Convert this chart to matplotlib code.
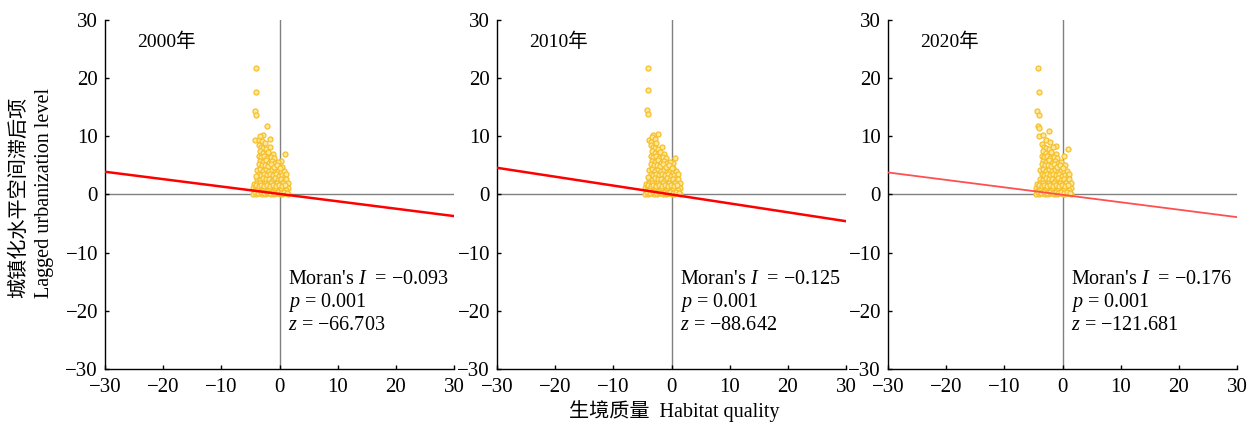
import matplotlib
matplotlib.use("Agg")
import matplotlib.pyplot as plt
import numpy as np

plt.rcParams['font.family'] = ['Liberation Serif', 'Noto Sans CJK SC', 'DejaVu Sans']
plt.rcParams['mathtext.fontset'] = 'custom'
plt.rcParams['mathtext.rm'] = 'Liberation Serif'
plt.rcParams['mathtext.it'] = 'Liberation Serif:italic'

years = ["2000年", "2010年", "2020年"]
morans_i = ["−0.093", "−0.125", "−0.176"]
p_values = ["0.001", "0.001", "0.001"]
z_values = ["−66.703", "−88.642", "−121.681"]
# regression line (slope, intercept)
slopes = [-0.127, -0.153, -0.128]
intercepts = [0.1, 0.0, -0.05]
line_colors = ["#FF0000", "#FF0000", "#FF5050"]
line_widths = [1.8, 1.8, 1.3]

# shared core cluster (habitat quality, lagged urbanization)
core_x = [-3.8, -3.3, -2.8, -2.3, -1.8, -1.3, -0.8, -0.3, 0.2, 0.7,
          -3.6, -3.1, -2.6, -2.1, -1.6, -1.1, -0.6, -0.1, 0.4, 0.9, 1.2,
          -3.8, -3.3, -2.8, -2.3, -1.8, -1.3, -0.8, -0.3, 0.2, 0.7, 1.1,
          -4.4, -3.9, -3.4, -2.9, -2.4, -1.9, -1.4, -0.9, -0.4, 0.1, 0.6, 1.1, 1.4,
          -4.5, -4.0, -3.5, -3.0, -2.5, -2.0, -1.5, -1.0, -0.5, 0.0, 0.5, 1.0, 1.4,
          -4.3, -3.8, -3.3, -2.8, -2.3, -1.8, -1.3, -0.8, -0.3, 0.2, 0.7, 1.2,
          -4.5, -4.0, -3.5, -3.0, -2.5, -2.0, -1.5, -1.0, -0.5, 0.0, 0.5, 1.0, 1.4,
          -4.2, -3.7, -3.2, -2.7, -2.2, -1.7, -1.2, -0.7, -0.2, 0.3, 0.8, 1.3,
          -4.1, -3.6, -3.1, -2.6, -2.1, -1.6, -1.1, -0.6, -0.1, 0.4, 0.9]
core_y = [4.2, 4.4, 4.1, 4.3, 4.0, 4.2, 3.9, 4.1, 3.8, 4.0,
          3.5, 3.3, 3.6, 3.4, 3.5, 3.3, 3.6, 3.2, 3.4, 3.1, 3.6,
          2.7, 2.5, 2.8, 2.6, 2.7, 2.4, 2.8, 2.5, 2.7, 2.4, 2.6,
          1.8, 2.0, 1.9, 1.7, 2.0, 1.8, 1.9, 1.7, 2.0, 1.8, 1.9, 1.7, 1.9,
          1.2, 1.3, 1.1, 1.4, 1.2, 1.3, 1.1, 1.4, 1.2, 1.3, 1.1, 1.4, 1.2,
          0.6, 0.7, 0.5, 0.8, 0.6, 0.7, 0.5, 0.8, 0.6, 0.7, 0.5, 0.8,
          0.1, 0.0, 0.2, 0.1, 0.0, 0.2, 0.1, 0.0, 0.2, 0.1, 0.0, 0.2, 0.1,
          0.4, 0.3, 0.4, 0.3, 0.4, 0.3, 0.4, 0.3, 0.4, 0.3, 0.4, 0.3,
          1.6, 1.5, 1.6, 1.5, 1.6, 1.5, 1.6, 1.5, 1.6, 1.5, 1.6]

# upper column and outliers per year
upper_x_2000 = [-4.1, -4.0, -4.2, -4.0, -2.1, -2.8, -4.2, -3.6, -1.7, -3.3, -3.0, -2.5, 0.9, -4.1, 0.3, 0.5,
                -3.5, -3.2, -2.8, -2.3, -1.6, -3.4, -2.9, -2.4, -1.9, -1.2, -3.6, -3.1, -2.6, -2.1, -1.5, -0.9,
                -3.3, -2.8, -2.3, -1.8, -1.3, -0.7, -0.2, -3.5, -3.0, -2.5, -2.0, -1.5, -1.0, -0.4, 0.1]
upper_y_2000 = [21.8, 17.7, 14.3, 13.6, 11.7, 10.3, 9.4, 9.4, 9.6, 10.0, 9.2, 8.8, 6.9, 3.1, 5.8, 4.8,
                8.5, 8.2, 8.0, 7.8, 8.1, 7.4, 7.2, 7.0, 7.3, 7.0, 6.6, 6.4, 6.7, 6.3, 6.5, 6.2,
                5.8, 5.6, 5.9, 5.5, 5.8, 5.4, 5.6, 5.2, 5.0, 5.1, 4.9, 5.2, 4.8, 5.0, 4.6]
upper_x_2010 = [-4.1, -4.0, -4.2, -4.0, -2.3, -3.1, -3.8, -3.4, -2.9, -3.5, -2.6, 0.6, -4.0, 0.3, 0.2,
                -3.5, -3.2, -2.8, -2.3, -1.7, -3.4, -2.9, -2.4, -1.9, -1.3, -3.6, -3.1, -2.6, -2.1, -1.5, -1.0,
                -3.3, -2.8, -2.3, -1.8, -1.3, -0.7, -0.2, -3.5, -3.0, -2.5, -2.0, -1.5, -1.0, -0.4, 0.1]
upper_y_2010 = [21.8, 17.9, 14.5, 13.8, 10.4, 10.2, 9.4, 9.8, 9.6, 9.0, 8.9, 6.3, 3.0, 5.4, 4.6,
                8.5, 8.2, 8.0, 7.8, 8.1, 7.4, 7.2, 7.0, 7.3, 7.0, 6.6, 6.4, 6.7, 6.3, 6.5, 6.2,
                5.8, 5.6, 5.9, 5.5, 5.8, 5.4, 5.6, 5.2, 5.0, 5.1, 4.9, 5.2, 4.8, 5.0, 4.6]
upper_x_2020 = [-4.2, -4.1, -4.3, -4.1, -4.2, -4.0, -2.4, -4.1, -3.4, -2.8, -2.2, -1.1, 0.9, 0.3, 0.4,
                -3.5, -3.2, -2.8, -2.3, -1.6, -3.4, -2.9, -2.4, -1.9, -1.2, -3.6, -3.1, -2.6, -2.1, -1.5, -0.9,
                -3.3, -2.8, -2.3, -1.8, -1.3, -0.7, -0.2, -3.5, -3.0, -2.5, -2.0, -1.5, -1.0, -0.4, 0.1]
upper_y_2020 = [21.8, 17.7, 14.3, 13.6, 11.8, 11.4, 11.0, 10.0, 10.3, 9.4, 9.0, 8.3, 7.9, 6.6, 5.1,
                8.6, 8.2, 8.0, 7.8, 8.1, 7.4, 7.2, 7.0, 7.3, 7.0, 6.6, 6.4, 6.7, 6.3, 6.5, 6.2,
                5.8, 5.6, 5.9, 5.5, 5.8, 5.4, 5.6, 5.2, 5.0, 5.1, 4.9, 5.2, 4.8, 5.0, 4.6]

upper_x = [upper_x_2000, upper_x_2010, upper_x_2020]
upper_y = [upper_y_2000, upper_y_2010, upper_y_2020]

ticks = [-30, -20, -10, 0, 10, 20, 30]

fig = plt.figure(figsize=(12.52, 4.24), dpi=100)
lefts = [105 / 1252, 497 / 1252, 888 / 1252]
width = 349 / 1252
bottom = 1 - 369 / 424
height = 349 / 424

for k in range(3):
    ax = fig.add_axes([lefts[k], bottom, width, height])
    ax.set_xlim(-30, 30)
    ax.set_ylim(-30, 30)
    ax.axhline(0, color="#808080", lw=1.0, zorder=1)
    ax.axvline(0, color="#808080", lw=1.0, zorder=1)
    xs = np.array(core_x + upper_x[k])
    ys = np.array(core_y + upper_y[k])
    ax.scatter(xs, ys, s=13, facecolor="#FFE79A", edgecolor="#F6C02C",
               linewidths=0.9, zorder=2)
    lx = np.array([-30, 30])
    ax.plot(lx, slopes[k] * lx + intercepts[k], color=line_colors[k],
            lw=line_widths[k], zorder=3)
    for s in ["top", "right"]:
        ax.spines[s].set_visible(False)
    for s in ["left", "bottom"]:
        ax.spines[s].set_linewidth(1.0)
    ax.set_xticks(ticks)
    ax.set_yticks(ticks)
    ax.tick_params(direction="in", length=3, width=1, labelsize=15)
    ax.tick_params(axis="x", pad=6.5)
    ax.tick_params(axis="y", pad=5)
    ax.text(-24.5, 26.3, years[k], fontsize=14, ha="left", va="center")
    ax.text(1.5, -14.6, "Moran's $I$  = " + morans_i[k], fontsize=14.5, ha="left", va="center")
    ax.text(1.5, -18.6, "$p$ = " + p_values[k], fontsize=14.5, ha="left", va="center")
    ax.text(1.5, -22.6, "$z$ = " + z_values[k], fontsize=14.5, ha="left", va="center")

fig.text(674 / 1252, 1 - 411 / 424, "生境质量  Habitat quality", fontsize=14.5,
         ha="center", va="center")
fig.text(20 / 1252, 1 - 197 / 424, "城镇化水平空间滞后项", fontsize=14.5, rotation=90,
         ha="center", va="center")
fig.text(45 / 1252, 1 - 193 / 424, "Lagged urbanization level", fontsize=14.5, rotation=90,
         ha="center", va="center")

fig.savefig("out.png", dpi=100)
